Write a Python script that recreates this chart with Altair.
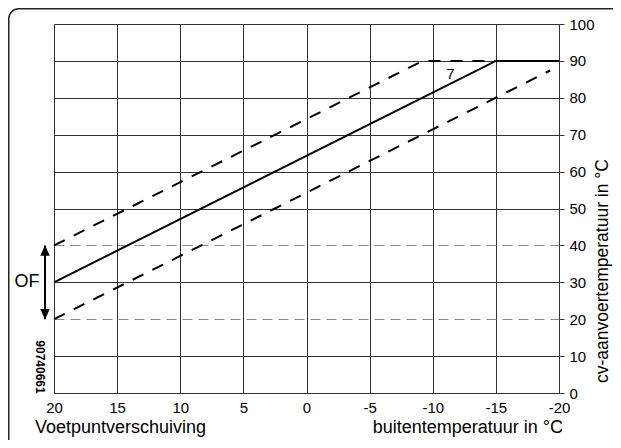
import altair as alt
import pandas as pd

# ---- data ----
x_ticks = [20, 15, 10, 5, 0, -5, -10, -15, -20]
y_ticks = [0, 10, 20, 30, 40, 50, 60, 70, 80, 90, 100]

curve7_x = [20, -15, -20]
curve7_y = [30, 90, 90]

upper_x = [20, -9.2, -15]
upper_y = [40, 90, 90]

lower_x = [20, -19.3]
lower_y = [20, 87.4]

label7_x = [-11.4]
label7_y = [86.4]
label7_text = ["7"]

of_range = [40, 20]          # OF arrow spans this y range
of_text = ["OF"]
code_text = ["90740661"]

x_title_left = "Voetpuntverschuiving"
x_title_right = "buitentemperatuur in °C"
y_title = "cv-aanvoertemperatuur in °C"

FONT = "Liberation Sans"
W, H = 505, 369

solid_df = pd.DataFrame({"x": curve7_x, "y": curve7_y})
dash_df = pd.DataFrame({
    "x": upper_x + lower_x,
    "y": upper_y + lower_y,
    "s": ["upper"] * len(upper_x) + ["lower"] * len(lower_x),
})
lab_df = pd.DataFrame({"x": label7_x, "y": label7_y, "t": label7_text})
one = pd.DataFrame({"a": [0]})

xs = alt.Scale(domain=[-20, 20], reverse=True, nice=False, zero=False)
ys = alt.Scale(domain=[0, 100], nice=False)

x_axis = alt.Axis(values=x_ticks, grid=True, gridColor="#333", gridWidth=1,
                  ticks=False, domain=False, labelFontSize=15, labelFont=FONT,
                  labelColor="#000", labelPadding=7, title=None, labelFlush=False,
                  labelOverlap=False, labelExpr="'' + datum.value")
dash_test = "datum.value === 20 || datum.value === 40"
y_axis = alt.Axis(orient="right", values=y_ticks, grid=True,
                  gridColor={"condition": {"test": dash_test, "value": "#8a8a8a"}, "value": "#333"},
                  gridDash={"condition": {"test": dash_test, "value": [10, 6]}, "value": []},
                  gridWidth=1, ticks=True, tickSize=5, tickColor="#333",
                  domain=False, labelFontSize=15, labelFont=FONT, labelColor="#000",
                  labelPadding=5, title=None, labelFlush=False, labelOverlap=False)


def X(field):
    return alt.X(field, type="quantitative", scale=xs, axis=x_axis)


def Y(field):
    return alt.Y(field, type="quantitative", scale=ys, axis=y_axis)


border = alt.Chart(one).mark_rect(
    fill=None, stroke="#222", strokeWidth=1.5, cornerRadius=10, clip=False
).encode(x=alt.value(-45.25), x2=alt.value(700), y=alt.value(-15.25), y2=alt.value(700))

solid = alt.Chart(solid_df).mark_line(color="#000", strokeWidth=2).encode(
    x=X("x"), y=Y("y"),
)

dashed = alt.Chart(dash_df).mark_line(color="#000", strokeWidth=2, strokeDash=[12, 10]).encode(
    x=X("x"), y=Y("y"), detail="s:N",
)

lab7 = alt.Chart(lab_df).mark_text(font=FONT, fontSize=15, color="#000").encode(
    x=X("x"), y=Y("y"), text="t:N"
)

arrow_df = pd.DataFrame({"y": [of_range[0]], "y2": [of_range[1]]})
arrow_line = alt.Chart(arrow_df).mark_rule(color="#000", strokeWidth=2, clip=False).encode(
    x=alt.value(-9), y=Y("y"), y2="y2:Q"
)
head_up = alt.Chart(pd.DataFrame({"y": [of_range[0]]})).mark_point(
    shape="M0,-1L0.9,1L-0.9,1Z", filled=True, color="#000", size=110, opacity=1, yOffset=5
).encode(x=alt.value(-9), y=Y("y"))
head_dn = alt.Chart(pd.DataFrame({"y": [of_range[1]]})).mark_point(
    shape="M0,1L0.9,-1L-0.9,-1Z", filled=True, color="#000", size=110, opacity=1, yOffset=-5
).encode(x=alt.value(-9), y=Y("y"))

of_df = pd.DataFrame({"y": [sum(of_range) / 2], "t": of_text})
of_lab = alt.Chart(of_df).mark_text(font=FONT, fontSize=18, color="#000",
                                    align="center", baseline="middle").encode(
    x=alt.value(-27), y=Y("y"), text="t:N"
)

code_lab = alt.Chart(pd.DataFrame({"t": code_text})).mark_text(
    font=FONT, fontSize=12, fontWeight="bold", color="#000", angle=90,
    align="center", baseline="middle"
).encode(x=alt.value(-14), y=alt.value(343), text="t:N")

xt_left = alt.Chart(pd.DataFrame({"t": [x_title_left]})).mark_text(
    font=FONT, fontSize=18, color="#000", align="left", baseline="alphabetic"
).encode(x=alt.value(-19), y=alt.value(409), text="t:N")

xt_right = alt.Chart(pd.DataFrame({"t": [x_title_right]})).mark_text(
    font=FONT, fontSize=18, color="#000", align="right", baseline="alphabetic"
).encode(x=alt.value(509), y=alt.value(409), text="t:N")

yt = alt.Chart(pd.DataFrame({"t": [y_title]})).mark_text(
    font=FONT, fontSize=17.5, color="#000", angle=270, align="center", baseline="middle"
).encode(x=alt.value(549), y=alt.value(247), text="t:N")

chart = alt.layer(
    border, solid, dashed, lab7, arrow_line, head_up, head_dn, of_lab, code_lab,
    xt_left, xt_right, yt
).properties(
    width=W, height=H,
    autosize=alt.AutoSizeParams(type="none"),
    padding={"left": 46, "top": 16, "right": 54, "bottom": 47},
).configure_view(stroke=None).configure(background="white")

chart.save("out.html", embed_options={"renderer": "svg", "actions": False})
